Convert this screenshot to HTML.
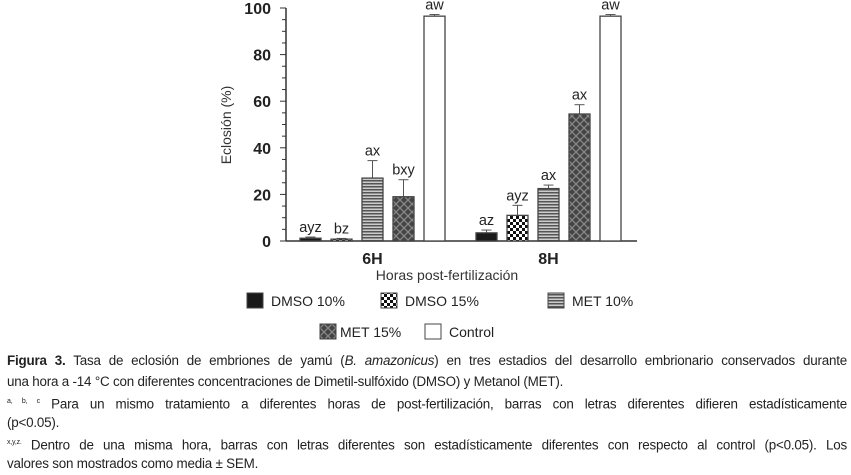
<!DOCTYPE html>
<html><head><meta charset="utf-8"><style>
body{margin:0;background:#fff;width:851px;height:472px;overflow:hidden;font-family:"Liberation Sans",sans-serif}
#cap{position:absolute;left:7px;top:351px;width:840px;font-size:13.4px;line-height:20.6px;color:#222;letter-spacing:-0.2px}
#cap div{white-space:nowrap;height:20.6px}
#cap .j{text-align:justify;text-align-last:justify}
</style></head><body>
<svg id="chart" width="851" height="350" style="position:absolute;left:0;top:0" font-family="Liberation Sans, sans-serif">
<defs>
<pattern id="pChk" width="6" height="6" patternUnits="userSpaceOnUse"><rect width="6" height="6" fill="#fff"/><rect width="3" height="3" fill="#111"/><rect x="3" y="3" width="3" height="3" fill="#111"/></pattern>
<pattern id="pStr" width="4" height="3" patternUnits="userSpaceOnUse"><rect width="4" height="3" fill="#ccc"/><rect width="4" height="1.5" fill="#555"/></pattern>
<pattern id="pX" width="8" height="8" patternUnits="userSpaceOnUse"><rect width="8" height="8" fill="#444"/><path d="M0 0L8 8M8 0L0 8" stroke="#888" stroke-width="1.3"/></pattern>
</defs>
<g id="plot"></g>
</svg>
<div id="cap">
<div class="j"><b>Figura 3.</b> Tasa de eclosión de embriones de yamú (<i>B. amazonicus</i>) en tres estadios del desarrollo embrionario conservados durante</div>
<div>una hora a -14 °C con diferentes concentraciones de Dimetil-sulfóxido (DMSO) y Metanol (MET).</div>
<div class="j"><sup style="font-size:7px">a, b, c</sup> Para un mismo tratamiento a diferentes horas de post-fertilización, barras con letras diferentes difieren estadísticamente</div>
<div>(p&lt;0.05).</div>
<div class="j"><sup style="font-size:7px">x,y,z.</sup> Dentro de una misma hora, barras con letras diferentes son estadísticamente diferentes con respecto al control (p&lt;0.05). Los</div>
<div>valores son mostrados como media ± SEM.</div>
</div>
<script>
const groups=["6H","8H"];
const series=["DMSO 10%","DMSO 15%","MET 10%","MET 15%","Control"];
const values6=[1.2,0.8,27,19,96.5];
const values8=[3.5,11,22.5,54.5,96.5];
const errs6=[0.5,0.3,7.5,7.3,0.7];
const errs8=[1.2,4.3,1.5,4,0.7];
const letters6=["ayz","bz","ax","bxy","aw"];
const letters8=["az","ayz","ax","ax","aw"];
const yTicks=[0,20,40,60,80,100];
const fills=["#1a1a1a","url(#pChk)","url(#pStr)","url(#pX)","#fff"];
const NS="http://www.w3.org/2000/svg";
const g=document.getElementById('plot');
function mk(t,a,txt){const e=document.createElementNS(NS,t);for(const k in a)e.setAttribute(k,a[k]);if(txt!==undefined)e.textContent=txt;g.appendChild(e);return e;}
const y=v=>241-v*2.33;
const gx=[300,476],bw=21,step=31;
const x=(gi,si)=>gx[gi]+si*step;
let e=mk('line',{x1:286,y1:y(0),x2:637,y2:y(0),stroke:'#333','stroke-width':1.5});

e=mk('line',{x1:286,y1:y(0),x2:286,y2:y(100),stroke:'#333','stroke-width':1.5});

for(let v=0;v<=100;v+=5){mk('line',{x1:v%20?282:280,y1:y(v),x2:286,y2:y(v),stroke:'#333','stroke-width':1});}
yTicks.forEach(t=>{e=mk('text',{x:271,y:y(t)+6,'text-anchor':'end','font-size':16,'font-weight':'bold',fill:'#222'},t);
});
e=mk('text',{x:0,y:0,transform:'translate(231,125) rotate(-90)','text-anchor':'middle','font-size':14,fill:'#333'},'Eclosión (%)');

[values6,values8].forEach((vals,gi)=>{
 const errs=gi?errs8:errs6,lets=gi?letters8:letters6;
 vals.forEach((v,si)=>{
  const bx=x(gi,si),top=y(v+errs[si]),ex=bx+bw/2;
  let l=mk('line',{x1:ex,y1:y(v),x2:ex,y2:top,stroke:'#555','stroke-width':1});
  
  mk('line',{x1:ex-5,y1:top,x2:ex+5,y2:top,stroke:'#555','stroke-width':1});
  if(si==4)mk('line',{x1:ex-5,y1:y(v-errs[si]),x2:ex+5,y2:y(v-errs[si]),stroke:'#555','stroke-width':1});
  let r=mk('rect',{x:bx,y:y(v),width:bw,height:y(0)-y(v),fill:fills[si],stroke:'#444','stroke-width':1.3});
  
  let t=mk('text',{x:ex,y:top-5,'text-anchor':'middle','font-size':14.5,fill:'#222'},lets[si]);
  
 });
 let t=mk('text',{x:x(gi,2)+bw/2,y:264,'text-anchor':'middle','font-size':16,'font-weight':'bold',fill:'#222'},groups[gi]);
 
});
e=mk('text',{x:447,y:280,'text-anchor':'middle','font-size':14,fill:'#333'},'Horas post-fertilización');

const legPos=[[247,301],[381,301],[548,301],[320,332],[425,332]];
series.forEach((s,i)=>{
 const [lx,ly]=legPos[i];
 let r=mk('rect',{x:lx,y:ly-8,width:16,height:15,fill:fills[i],stroke:'#444','stroke-width':1});
 
 let t=mk('text',{x:lx+(i==3?20:24),y:ly+5,'font-size':14,fill:'#222'},s);
 
});
</script>
</body></html>
